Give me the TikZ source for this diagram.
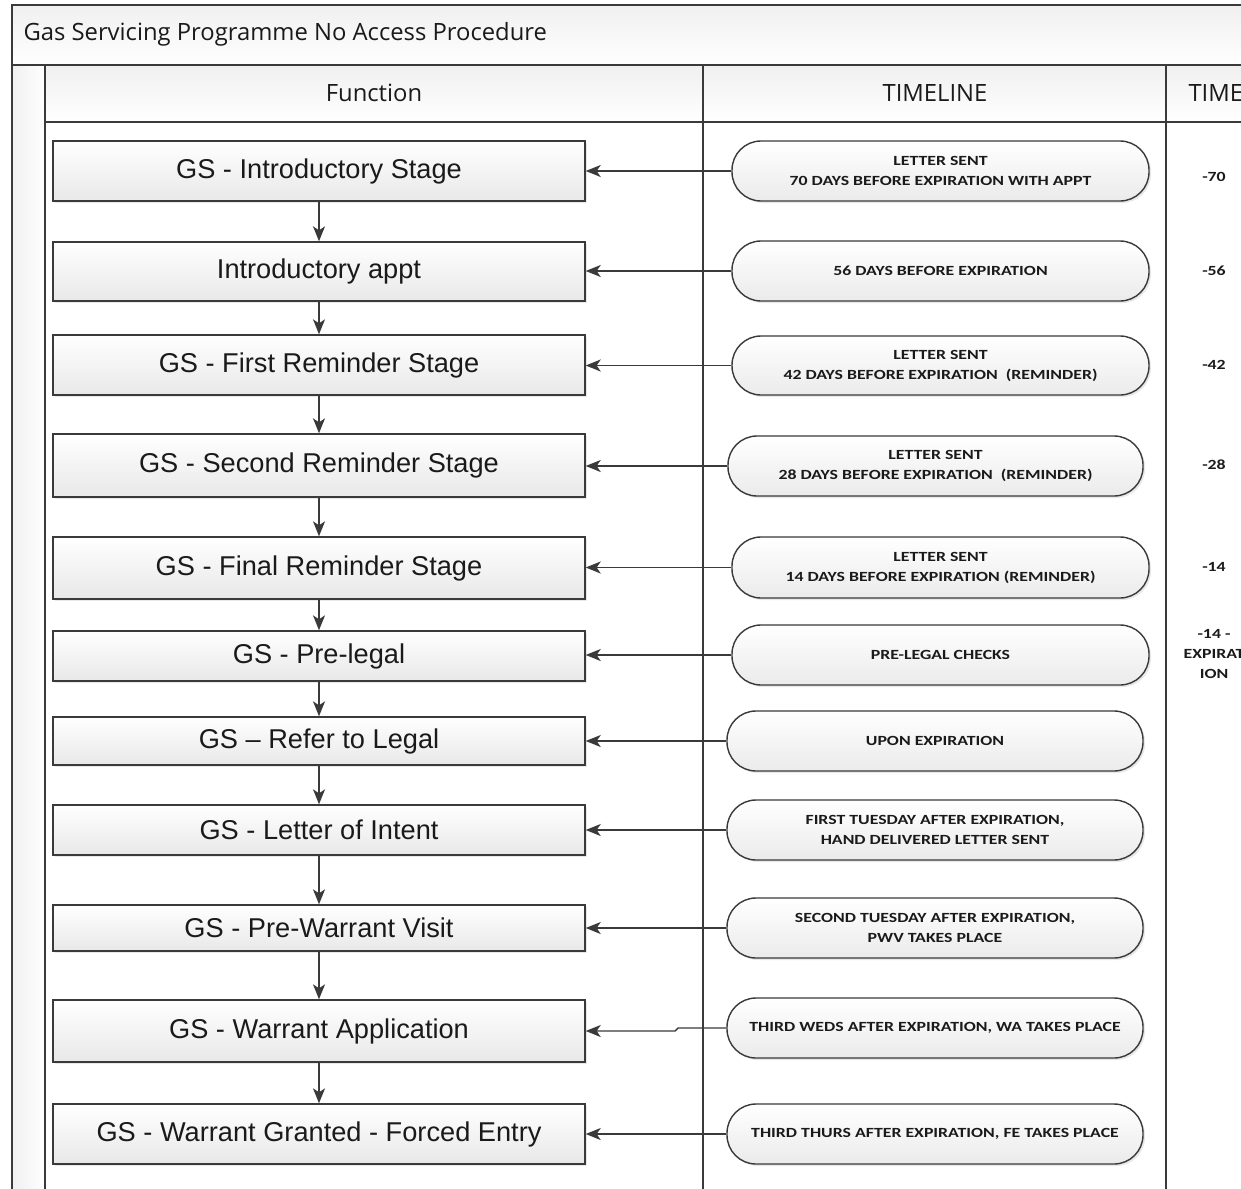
\documentclass[tikz,border=0pt]{standalone}
\usepackage{fontspec}
\setmainfont{Liberation Sans}
\newfontfamily\pillfont{Carlito}[FakeStretch=1.27]
\newfontfamily\headfont{Open Sans}
\usetikzlibrary{arrows.meta,shadows}
\definecolor{linec}{HTML}{3A3A3A}
\definecolor{txt}{HTML}{1A1A1A}
\tikzset{
  fbox/.style={rectangle, draw=linec, line width=1.4pt, top color=white, bottom color=black!9,
    drop shadow={opacity=0.18, shadow xshift=2pt, shadow yshift=-2pt},
    minimum width=532pt, inner sep=0pt, text=txt, font=\fontsize{27.2}{29}\selectfont},
  pill/.style={rectangle, rounded corners=29pt, draw=linec, line width=1.4pt, top color=white, bottom color=black!8,
    drop shadow={opacity=0.18, shadow xshift=2pt, shadow yshift=-2pt},
    minimum height=60pt, inner sep=0pt, align=center, text=txt,
    font=\pillfont\bfseries\fontsize{14}{20}\selectfont},
  timetxt/.style={align=center, text=txt, font=\pillfont\bfseries\fontsize{14}{20}\selectfont},
  headtxt/.style={text=txt, font=\headfont\fontsize{23.8}{26}\selectfont},
  arr/.style={draw=linec, line width=1.4pt, -{Stealth[length=15pt,width=12pt,inset=4pt]}},
  frame/.style={draw=linec, line width=1.5pt}
}
\begin{document}
\begin{tikzpicture}[x=1pt,y=-1pt]
\useasboundingbox (0,0) rectangle (1241,1188);
% backgrounds
\fill[white] (0,0) rectangle (1241,1188);
\shade[top color=black!6, bottom color=white] (12,5) rectangle (1250,65);
\shade[top color=black!6, bottom color=white] (45,65) rectangle (1250,122);
\shade[left color=black!6, right color=white] (12,65) rectangle (45,1195);
% frame lines
\draw[frame] (1250,5) -- (12,5) -- (12,1195);
\draw[frame] (12,65) -- (1250,65);
\draw[frame] (45,65) -- (45,1195);
\draw[frame] (45,122) -- (1250,122);
\draw[frame] (703,65) -- (703,1195);
\draw[frame] (1166,65) -- (1166,1195);
% titles
\node[headtxt, anchor=west] (title) at (20,34) {Gas Servicing Programme No Access Procedure};
\node[headtxt] (hfun) at (374,93) {Function};
\node[headtxt] (htl) at (935,93) {TIMELINE};
\node[headtxt, anchor=west] (htime) at (1185,93) {TIME};
% function boxes
\node[fbox, minimum height=60pt] (b1) at (319,171) {GS - Introductory Stage};
\node[fbox, minimum height=59pt] (b2) at (319,271.5) {Introductory appt};
\node[fbox, minimum height=60pt] (b3) at (319,365) {GS - First Reminder Stage};
\node[fbox, minimum height=63pt] (b4) at (319,465.5) {GS - Second Reminder Stage};
\node[fbox, minimum height=62pt] (b5) at (319,568) {GS - Final Reminder Stage};
\node[fbox, minimum height=50pt] (b6) at (319,656) {GS - Pre-legal};
\node[fbox, minimum height=48pt] (b7) at (319,741) {GS – Refer to Legal};
\node[fbox, minimum height=50pt] (b8) at (319,830) {GS - Letter of Intent};
\node[fbox, minimum height=46pt] (b9) at (319,928) {GS - Pre-Warrant Visit};
\node[fbox, minimum height=62pt] (b10) at (319,1031) {GS - Warrant Application};
\node[fbox, minimum height=60pt] (b11) at (319,1134) {GS - Warrant Granted - Forced Entry};
% timeline pills
\node[pill, minimum width=417pt] (p1) at (940.5,171) {LETTER SENT\\70 DAYS BEFORE EXPIRATION WITH APPT};
\node[pill, minimum width=417pt] (p2) at (940.5,271) {56 DAYS BEFORE EXPIRATION};
\node[pill, minimum width=417pt, minimum height=59pt] (p3) at (940.5,365.5) {LETTER SENT\\42 DAYS BEFORE EXPIRATION\ \ (REMINDER)};
\node[pill, minimum width=415pt] (p4) at (935.5,466) {LETTER SENT\\28 DAYS BEFORE EXPIRATION\ \ (REMINDER)};
\node[pill, minimum width=417pt, minimum height=61pt] (p5) at (940.5,567.5) {LETTER SENT\\14 DAYS BEFORE EXPIRATION (REMINDER)};
\node[pill, minimum width=417pt] (p6) at (940.5,655) {PRE-LEGAL CHECKS};
\node[pill, minimum width=416pt] (p7) at (935,741) {UPON EXPIRATION};
\node[pill, minimum width=416pt] (p8) at (935,830) {FIRST TUESDAY AFTER EXPIRATION,\\HAND DELIVERED LETTER SENT};
\node[pill, minimum width=416pt] (p9) at (935,928) {SECOND TUESDAY AFTER EXPIRATION,\\PWV TAKES PLACE};
\node[pill, minimum width=416pt] (p10) at (935,1028) {THIRD WEDS AFTER EXPIRATION, WA TAKES PLACE};
\node[pill, minimum width=416pt] (p11) at (935,1134) {THIRD THURS AFTER EXPIRATION, FE TAKES PLACE};
% time column
\node[timetxt] (t1) at (1214,177) {-70};
\node[timetxt] (t2) at (1214,271) {-56};
\node[timetxt] (t3) at (1214,365) {-42};
\node[timetxt] (t4) at (1214,465) {-28};
\node[timetxt] (t5) at (1214,567) {-14};
\node[timetxt] (t6) at (1214,654) {-14 -\\EXPIRAT\\ION};
% vertical flow
\foreach \a/\b in {b1/b2,b2/b3,b3/b4,b4/b5,b5/b6,b6/b7,b7/b8,b8/b9,b9/b10,b10/b11}
  \draw[arr] (\a.south) -- (\b.north);
% horizontal connectors
\foreach \i in {1,...,9,11}
  \draw[arr] (p\i.west) -- (b\i.east |- p\i.west);
\coordinate (j1) at (678,1028);
\coordinate (j2) at (675,1031);
\draw[arr] (p10.west) -- (j1) -- (j2) -- (b10.east);
\end{tikzpicture}
\end{document}
